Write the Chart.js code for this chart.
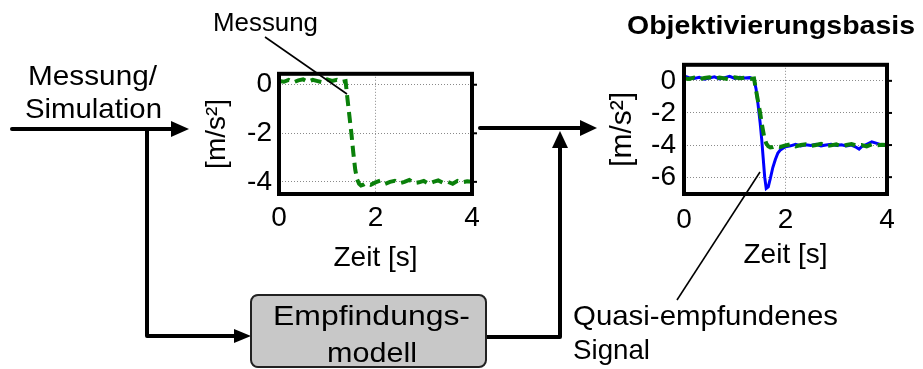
<!DOCTYPE html>
<html>
<head>
<meta charset="utf-8">
<script src="https://cdn.jsdelivr.net/npm/chart.js@4.4.1/dist/chart.umd.min.js"></script>
<style>
  html, body { margin: 0; padding: 0; background: #fff; }
  #stage { position: relative; width: 923px; height: 369px; overflow: hidden; }
  canvas { position: absolute; }
  #c1 { left: 190px; top: 50px; }
  #c2 { left: 600px; top: 40px; }
  svg { position: absolute; left: 0; top: 0; pointer-events: none; }
  svg text { font-family: "Liberation Sans", Arial, sans-serif; fill: #000; }
</style>
</head>
<body>
<div id="stage">
  <canvas id="c1" width="300" height="230"></canvas>
  <canvas id="c2" width="310" height="240"></canvas>
  <svg width="923" height="369">
    <!-- input arrow -->
    <line x1="12" y1="129" x2="174" y2="129" stroke="#000" stroke-width="4" stroke-linecap="round"/>
    <polygon points="171,121 189,129 171,137" fill="#000"/>
    <!-- branch to the model -->
    <polyline points="147,129 147,336 236,336" fill="none" stroke="#000" stroke-width="4" stroke-linejoin="round"/>
    <polygon points="234,329 251,336 234,343" fill="#000"/>
    <!-- model box -->
    <rect x="251" y="295" width="235" height="72" rx="7" fill="#c8c8c8" stroke="#222" stroke-width="2"/>
    <!-- model output back up -->
    <polyline points="487,337 560,337 560,148" fill="none" stroke="#000" stroke-width="4" stroke-linejoin="round"/>
    <polygon points="552,148 560,131 568,148" fill="#000"/>
    <!-- middle arrow -->
    <line x1="480" y1="128" x2="582" y2="128" stroke="#000" stroke-width="4" stroke-linecap="round"/>
    <polygon points="580,120 597,128 580,136" fill="#000"/>
    <!-- annotation lines -->
    <line x1="265" y1="37" x2="347" y2="94" stroke="#000" stroke-width="1.6"/>
    <line x1="760" y1="172" x2="677" y2="300" stroke="#000" stroke-width="1.6"/>
    <!-- texts -->
    <text x="213" y="31" font-size="26" textLength="105" lengthAdjust="spacingAndGlyphs">Messung</text>
    <text x="28" y="85" font-size="28" textLength="129" lengthAdjust="spacingAndGlyphs">Messung/</text>
    <text x="25" y="118" font-size="28" textLength="137" lengthAdjust="spacingAndGlyphs">Simulation</text>
    <text x="273" y="325" font-size="28" textLength="197" lengthAdjust="spacingAndGlyphs">Empfindungs-</text>
    <text x="327" y="362" font-size="28" textLength="90" lengthAdjust="spacingAndGlyphs">modell</text>
    <text x="627" y="34" font-size="26" font-weight="bold" textLength="288" lengthAdjust="spacingAndGlyphs">Objektivierungsbasis</text>
    <text x="573" y="325" font-size="28" textLength="265" lengthAdjust="spacingAndGlyphs">Quasi-empfundenes</text>
    <text x="573" y="359" font-size="28" textLength="77" lengthAdjust="spacingAndGlyphs">Signal</text>
  </svg>
</div>
<script>
// Messung (green, dashed) - time [s] and acceleration [m/s²]
const measTime  = [0.00, 0.10, 0.20, 0.30, 0.40, 0.50, 0.60, 0.70, 0.80, 0.90, 1.00, 1.10, 1.20, 1.30, 1.38,
                   1.42, 1.46, 1.50, 1.54, 1.58, 1.62, 1.66, 1.70, 1.75, 1.80, 1.90, 2.00, 2.10, 2.20, 2.30,
                   2.40, 2.50, 2.60, 2.70, 2.80, 2.90, 3.00, 3.10, 3.20, 3.30, 3.40, 3.50, 3.60, 3.70, 3.80, 3.90, 4.00];
const measAccel = [0.15, 0.12, 0.20, 0.10, 0.18, 0.22, 0.12, 0.20, 0.15, 0.10, 0.22, 0.16, 0.20, 0.12, 0.15,
                   -0.60, -1.30, -2.00, -2.80, -3.50, -3.90, -4.08, -4.15, -4.12, -4.06, -4.12, -4.02, -3.95, -4.08, -4.00,
                   -3.96, -4.06, -4.00, -3.92, -4.05, -4.02, -3.96, -4.08, -4.00, -3.94, -4.04, -4.00, -4.08, -3.96, -4.02, -3.98, -4.00];

// Quasi-empfundenes Signal (blue)
const percTime  = [0.00, 0.10, 0.20, 0.30, 0.40, 0.50, 0.60, 0.70, 0.80, 0.90, 1.00, 1.10, 1.20, 1.30, 1.38,
                   1.42, 1.46, 1.50, 1.53, 1.56, 1.59, 1.62, 1.66, 1.70, 1.75, 1.80, 1.85, 1.90, 1.95, 2.00,
                   2.10, 2.20, 2.30, 2.40, 2.50, 2.60, 2.70, 2.80, 2.90, 3.00, 3.10, 3.20, 3.30, 3.40, 3.45,
                   3.50, 3.60, 3.70, 3.80, 3.90, 4.00];
const percAccel = [0.30, 0.20, 0.15, 0.22, 0.10, 0.18, 0.25, 0.12, 0.20, 0.28, 0.15, 0.22, 0.18, 0.20, 0.10,
                   -0.50, -1.50, -2.60, -3.60, -4.80, -6.00, -6.70, -6.60, -6.10, -5.40, -4.90, -4.50, -4.30, -4.20, -4.10,
                   -4.05, -3.95, -4.05, -3.98, -4.02, -3.95, -4.05, -4.00, -3.95, -4.02, -3.98, -4.05, -4.00, -4.15, -4.25,
                   -4.10, -3.95, -3.80, -3.90, -4.00, -3.95];

const timeTicks = [0, 2, 4];
const accelTicks1 = [-4, -2, 0];
const accelTicks2 = [-6, -4, -2, 0];

const GREEN = '#0a800a';
const BLUE = '#0000ff';
const FONT = { family: '"Liberation Sans", Arial, sans-serif', size: 28 };

const toPoints = (xs, ys) => xs.map((x, i) => ({ x: x, y: ys[i] }));

// black frame round the plot plus small outside ticks on the right
const framePlugin = {
  id: 'frame',
  afterDatasetsDraw(chart) {
    const { ctx, chartArea: a, scales } = chart;
    ctx.save();
    ctx.strokeStyle = '#000';
    ctx.lineWidth = 4;
    ctx.strokeRect(a.left, a.top, a.right - a.left, a.bottom - a.top);
    ctx.lineWidth = 2;
    scales.y.ticks.forEach(t => {
      const py = scales.y.getPixelForValue(t.value);
      ctx.beginPath();
      ctx.moveTo(a.right, py);
      ctx.lineTo(a.right + 5, py);
      ctx.stroke();
    });
    ctx.restore();
  }
};

function makeChart(id, datasets, yMin, yMax, yTicks, opt) {
  return new Chart(document.getElementById(id), {
    type: 'line',
    data: { datasets: datasets },
    options: {
      responsive: false,
      animation: false,
      events: [],
      layout: { padding: { left: 0, top: opt.top, right: opt.right, bottom: 0 } },
      plugins: { legend: { display: false }, tooltip: { enabled: false } },
      scales: {
        x: {
          type: 'linear', min: 0, max: 4,
          afterBuildTicks: s => { s.ticks = timeTicks.map(v => ({ value: v })); },
          afterFit: s => { s.height = opt.xHeight; },
          ticks: { font: FONT, color: '#000', padding: opt.xPad, maxRotation: 0 },
          grid: { color: '#8a8a8a', lineWidth: 1, drawTicks: false },
          border: { display: false, dash: [1, 2] },
          title: { display: true, text: 'Zeit [s]', font: FONT, color: '#000', padding: { top: 0, bottom: opt.xTitlePad } }
        },
        y: {
          type: 'linear', min: yMin, max: yMax,
          afterBuildTicks: s => { s.ticks = yTicks.map(v => ({ value: v })); },
          afterFit: s => { s.width = opt.yWidth; },
          ticks: { font: FONT, color: '#000', padding: opt.yPad },
          grid: { color: '#8a8a8a', lineWidth: 1, drawTicks: false },
          border: { display: false, dash: [1, 2] },
          title: { display: true, text: '[m/s²]', font: { family: FONT.family, size: opt.yTitleSize }, color: '#000', padding: { top: opt.yTitlePad, bottom: 0 } }
        }
      }
    },
    plugins: [framePlugin]
  });
}

const greenLine = {
  data: toPoints(measTime, measAccel),
  borderColor: GREEN, borderWidth: 4, borderDash: [11, 6],
  pointRadius: 0, tension: 0, fill: false
};

makeChart('c1', [greenLine], -4.5, 0.45, accelTicks1, {
  top: 12, right: 18, xHeight: 86, yWidth: 89, xPad: 7, yPad: 7, xTitlePad: 5, yTitlePad: 10, yTitleSize: 28
});

makeChart('c2', [
  Object.assign({}, greenLine, { data: toPoints(measTime, measAccel) }),
  { data: toPoints(percTime, percAccel), borderColor: BLUE, borderWidth: 3, pointRadius: 0, tension: 0, fill: false }
], -7.05, 1, accelTicks2, {
  top: 16, right: 23, xHeight: 86, yWidth: 84, xPad: 9, yPad: 8, xTitlePad: 8, yTitlePad: 5, yTitleSize: 30
});
</script>
</body>
</html>
